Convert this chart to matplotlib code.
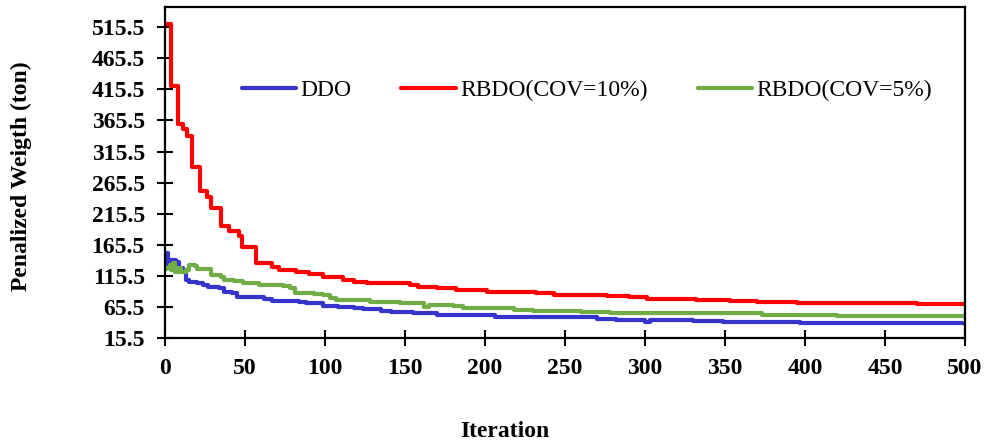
import matplotlib
matplotlib.use("Agg")
import matplotlib.pyplot as plt

plt.rcParams["font.family"] = ["Liberation Serif", "DejaVu Serif"]

# breakpoints: (iteration, best value so far)
ddo_iter = [0, 2, 4, 7, 9, 11, 13, 15, 20, 24, 27, 34, 37, 42, 45, 57, 62, 67,
            84, 88, 99, 108, 118, 124, 135, 141, 155, 166, 170, 206, 244, 270,
            282, 299, 300, 303, 330, 349, 375, 397, 430, 457, 500]
ddo_val = [152, 131, 141, 138, 128, 122, 109, 106, 103.7, 101, 98.2, 95.7,
           90.2, 87.6, 82.1, 81, 78, 75.7, 74, 71.5, 66.5, 65, 63, 61.8, 59.5,
           57, 56, 55, 52.6, 50, 48.5, 46, 44.8, 44.5, 41.8, 44, 42.9, 41.8,
           41, 40.2, 39.5, 39.2, 38.5]

rbdo10_iter = [0, 4, 8, 11, 14, 17, 22, 26, 29, 35, 40, 46, 48, 57, 67, 71,
               82, 90, 99, 111, 118, 126, 153, 158, 170, 182, 201, 215, 232,
               243, 276, 290, 301, 332, 353, 370, 395, 440, 470, 500]
rbdo10_val = [520, 421, 359, 351, 340, 290, 252, 243, 225, 196, 187, 179, 162,
              136, 130, 125, 122, 118, 114, 109, 105, 104, 101, 97, 95.7, 92,
              90, 89, 87.6, 85, 83, 81, 79, 77, 75.7, 74, 72.4, 71.5, 71, 70.5]

rbdo5_iter = [0, 1, 3, 4, 5, 6, 8, 10, 13, 15, 19, 20, 29, 35, 37, 43, 49, 59,
              74, 78, 81, 93, 99, 103, 107, 116, 128, 147, 155, 162, 165, 180,
              186, 201, 218, 230, 240, 260, 278, 330, 337, 353, 373, 420, 447,
              470, 500]
rbdo5_val = [126, 128, 133, 125, 136, 122, 128, 122, 125, 133, 131, 126, 117,
             114, 109, 107, 104, 100, 99.4, 95.7, 87.6, 86.5, 85, 79.5, 77,
             76.8, 74, 72.5, 71.5, 65.5, 68.7, 67, 64, 63, 61, 59.6, 59, 57,
             56.5, 56.5, 55.3, 55, 52.8, 51.5, 51, 50.5, 50]

y_ticks = [15.5, 65.5, 115.5, 165.5, 215.5, 265.5, 315.5, 365.5, 415.5, 465.5, 515.5]
x_ticks = [0, 50, 100, 150, 200, 250, 300, 350, 400, 450, 500]

fig = plt.figure(figsize=(9.87, 4.46), dpi=100)
ax = fig.add_axes([165 / 987, 108 / 446, 800 / 987, 331 / 446])

line_kw = dict(drawstyle="steps-post", lw=3.0, solid_joinstyle="round",
               solid_capstyle="round")
ax.plot(ddo_iter, ddo_val, color="#3535CC", label="DDO", **line_kw)
ax.plot(rbdo10_iter, rbdo10_val, color="#FF0000", label="RBDO(COV=10%)", **line_kw)
ax.plot(rbdo5_iter, rbdo5_val, color="#70AD47", label="RBDO(COV=5%)", **line_kw)

ax.set_xlim(0, 500)
ax.set_ylim(15.5, 548)
ax.set_xticks(x_ticks)
ax.set_yticks(y_ticks)
ax.set_yticklabels([f"{v:.1f}" for v in y_ticks])

for s in ax.spines.values():
    s.set_linewidth(1.6)
    s.set_color("black")
ax.tick_params(axis="both", direction="inout", length=11, width=1.5,
               labelsize=17)
ax.tick_params(axis="x", pad=9)
ax.tick_params(axis="y", pad=9)
for lab in ax.get_xticklabels() + ax.get_yticklabels():
    lab.set_fontweight("bold")

ax.set_xlabel("Iteration", fontsize=17, fontweight="bold")
ax.xaxis.set_label_coords(0.425, -0.252)
ax.set_ylabel("Penalized Weigth (ton)", fontsize=17, fontweight="bold")
ax.yaxis.set_label_coords(-0.166, 0.49)

ax.legend(loc="center", bbox_to_anchor=(0.5275, 0.749), ncol=3, frameon=False,
          fontsize=17, handlelength=2.3, handletextpad=0.2, columnspacing=2.1)

fig.savefig("out.png", dpi=100)
